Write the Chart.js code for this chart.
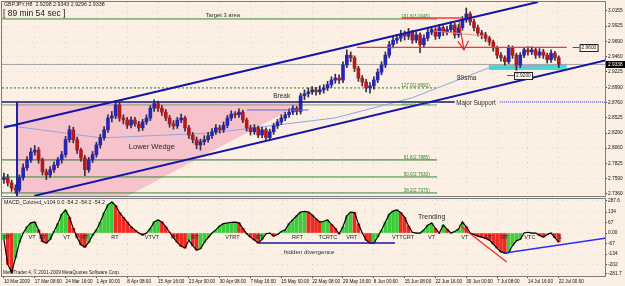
<!DOCTYPE html>
<html>
<head>
<meta charset="utf-8">
<script src="https://cdn.jsdelivr.net/npm/chart.js@4.4.1/dist/chart.umd.min.js"></script>
<style>
    html, body { margin: 0; padding: 0; background: #fcf0e4; }
    #cadre { position: relative; width: 625px; height: 286px; overflow: hidden; }
    canvas { display: block; }
</style>
</head>
<body>
<div id="cadre">
    <canvas id="graphPrix" width="625" height="197"></canvas>
    <canvas id="graphMacd" width="625" height="89"></canvas>
</div>
<script>
// ========================== DONNÉES ==========================

// Étiquettes de l'axe du temps (une toutes les 8 bougies)
const etiquettesTemps = ['10 Mar 2009', '17 Mar 08:00', '24 Mar 16:00', '1 Apr 00:00', '8 Apr 08:00',
    '15 Apr 16:00', '23 Apr 00:00', '30 Apr 08:00', '7 May 16:00', '15 May 00:00', '22 May 08:00',
    '29 May 16:00', '8 Jun 00:00', '15 Jun 08:00', '22 Jun 16:00', '30 Jun 00:00', '7 Jul 08:00',
    '14 Jul 16:00', '22 Jul 00:00'];
const pasEtiquettes = 8;

// Axe des prix
const valeursPrix = [3.0155, 2.9925, 2.9690, 2.9460, 2.9225, 2.8990, 2.8760, 2.8525, 2.8290, 2.8060, 2.7825, 2.7590, 2.7360];
const etiquettesPrix = ['3.0155', '2.9925', '2.9690', '2.9460', '2.9225', '2.8990', '2.8760', '2.8525', '2.8290', '2.8060', '2.7825', '2.7590', '2.7360'];

// Bougies (ouverture, haut, bas, clôture)
const ouvertures = [
    2.758, 2.761, 2.753, 2.745, 2.742, 2.761, 2.776, 2.788, 2.800, 2.803,
    2.788, 2.770, 2.765, 2.773, 2.780, 2.788, 2.796, 2.819, 2.834, 2.819,
    2.803, 2.791, 2.773, 2.788, 2.796, 2.811, 2.822, 2.834, 2.852, 2.855,
    2.872, 2.852, 2.849, 2.841, 2.849, 2.843, 2.837, 2.846, 2.852, 2.867,
    2.874, 2.867, 2.861, 2.852, 2.843, 2.840, 2.849, 2.852, 2.837, 2.826,
    2.819, 2.811, 2.816, 2.819, 2.825, 2.831, 2.837, 2.834, 2.841, 2.852,
    2.858, 2.857, 2.861, 2.849, 2.837, 2.831, 2.837, 2.826, 2.834, 2.822,
    2.831, 2.840, 2.846, 2.852, 2.857, 2.861, 2.867, 2.862, 2.886, 2.889,
    2.892, 2.895, 2.892, 2.895, 2.898, 2.903, 2.910, 2.913, 2.910, 2.933,
    2.948, 2.944, 2.928, 2.913, 2.907, 2.898, 2.901, 2.910, 2.922, 2.933,
    2.948, 2.964, 2.971, 2.974, 2.980, 2.977, 2.983, 2.971, 2.979, 2.964,
    2.974, 2.983, 2.987, 2.977, 2.990, 2.983, 2.987, 2.994, 2.979, 2.990,
    3.002, 3.011, 2.999, 2.990, 2.982, 2.979, 2.974, 2.968, 2.959, 2.948,
    2.944, 2.938, 2.959, 2.948, 2.933, 2.948, 2.956, 2.953, 2.956, 2.948,
    2.953, 2.948, 2.941, 2.951, 2.944
];
const hauts = [
    2.768, 2.766, 2.757, 2.750, 2.765, 2.782, 2.793, 2.806, 2.810, 2.807,
    2.791, 2.774, 2.778, 2.785, 2.792, 2.801, 2.824, 2.840, 2.838, 2.823,
    2.806, 2.795, 2.792, 2.801, 2.815, 2.827, 2.839, 2.857, 2.862, 2.879,
    2.876, 2.857, 2.853, 2.854, 2.853, 2.847, 2.850, 2.857, 2.871, 2.880,
    2.878, 2.871, 2.865, 2.856, 2.848, 2.853, 2.858, 2.855, 2.841, 2.830,
    2.823, 2.820, 2.825, 2.830, 2.836, 2.842, 2.841, 2.846, 2.856, 2.863,
    2.862, 2.866, 2.864, 2.852, 2.841, 2.842, 2.840, 2.838, 2.837, 2.835,
    2.844, 2.850, 2.857, 2.861, 2.866, 2.871, 2.870, 2.890, 2.895, 2.898,
    2.900, 2.899, 2.901, 2.903, 2.908, 2.915, 2.919, 2.918, 2.938, 2.956,
    2.953, 2.947, 2.931, 2.917, 2.911, 2.906, 2.915, 2.927, 2.938, 2.953,
    2.969, 2.977, 2.980, 2.986, 2.985, 2.989, 2.986, 2.984, 2.982, 2.979,
    2.988, 2.992, 2.990, 2.995, 2.993, 2.992, 2.999, 2.997, 2.995, 3.007,
    3.020, 3.014, 3.003, 2.994, 2.986, 2.983, 2.977, 2.971, 2.962, 2.952,
    2.947, 2.963, 2.962, 2.951, 2.952, 2.960, 2.961, 2.961, 2.959, 2.958,
    2.957, 2.951, 2.956, 2.954, 2.947
];
const bas = [
    2.752, 2.748, 2.740, 2.737, 2.739, 2.757, 2.772, 2.784, 2.795, 2.783,
    2.765, 2.758, 2.761, 2.769, 2.776, 2.783, 2.792, 2.815, 2.814, 2.798,
    2.786, 2.764, 2.769, 2.784, 2.792, 2.806, 2.818, 2.830, 2.846, 2.851,
    2.847, 2.843, 2.836, 2.837, 2.839, 2.832, 2.833, 2.842, 2.848, 2.862,
    2.862, 2.856, 2.848, 2.838, 2.835, 2.836, 2.845, 2.832, 2.821, 2.814,
    2.805, 2.803, 2.811, 2.815, 2.821, 2.827, 2.829, 2.830, 2.837, 2.848,
    2.852, 2.853, 2.845, 2.832, 2.826, 2.827, 2.822, 2.822, 2.818, 2.819,
    2.827, 2.836, 2.842, 2.848, 2.853, 2.857, 2.857, 2.858, 2.880, 2.884,
    2.888, 2.887, 2.888, 2.890, 2.894, 2.899, 2.905, 2.905, 2.906, 2.929,
    2.938, 2.923, 2.908, 2.901, 2.892, 2.890, 2.896, 2.906, 2.918, 2.929,
    2.944, 2.959, 2.966, 2.969, 2.971, 2.972, 2.966, 2.967, 2.952, 2.960,
    2.970, 2.979, 2.972, 2.973, 2.978, 2.979, 2.983, 2.974, 2.975, 2.986,
    2.998, 2.994, 2.985, 2.977, 2.973, 2.969, 2.963, 2.954, 2.943, 2.939,
    2.933, 2.935, 2.943, 2.925, 2.929, 2.944, 2.948, 2.949, 2.943, 2.944,
    2.943, 2.936, 2.937, 2.940, 2.929
];
const clotures = [
    2.761, 2.753, 2.745, 2.742, 2.761, 2.776, 2.788, 2.800, 2.803, 2.788,
    2.770, 2.765, 2.773, 2.780, 2.788, 2.796, 2.819, 2.834, 2.819, 2.803,
    2.791, 2.773, 2.788, 2.796, 2.811, 2.822, 2.834, 2.852, 2.855, 2.872,
    2.852, 2.849, 2.841, 2.849, 2.843, 2.837, 2.846, 2.852, 2.867, 2.874,
    2.867, 2.861, 2.852, 2.843, 2.840, 2.849, 2.852, 2.837, 2.826, 2.819,
    2.811, 2.816, 2.819, 2.825, 2.831, 2.837, 2.834, 2.841, 2.852, 2.858,
    2.857, 2.861, 2.849, 2.837, 2.831, 2.837, 2.826, 2.834, 2.822, 2.831,
    2.840, 2.846, 2.852, 2.857, 2.861, 2.867, 2.862, 2.886, 2.889, 2.892,
    2.895, 2.892, 2.895, 2.898, 2.903, 2.910, 2.913, 2.910, 2.933, 2.948,
    2.944, 2.928, 2.913, 2.907, 2.898, 2.901, 2.910, 2.922, 2.933, 2.948,
    2.964, 2.971, 2.974, 2.980, 2.977, 2.983, 2.971, 2.979, 2.964, 2.974,
    2.983, 2.987, 2.977, 2.990, 2.983, 2.987, 2.994, 2.979, 2.990, 3.002,
    3.011, 2.999, 2.990, 2.982, 2.979, 2.974, 2.968, 2.959, 2.948, 2.944,
    2.938, 2.959, 2.948, 2.933, 2.948, 2.956, 2.953, 2.956, 2.948, 2.953,
    2.948, 2.941, 2.951, 2.944, 2.934
];
const prixActuel = 2.9338;

// Moyenne mobile 89
const sma89 = [
    { x: 0, y: 2.8414 }, { x: 25.4, y: 2.8216 }, { x: 54, y: 2.8292 }, { x: 85.9, y: 2.8521 },
    { x: 105.9, y: 2.8827 }, { x: 125.8, y: 2.9285 }, { x: 145.6, y: 2.9331 }
];

// MACD coloré
const valeursMacd = [
    -40, -200, -250, -160, -60, 0, 40, 65, 70, 20,
    -55, -64, -40, 10, 60, 120, 147, 100, 30, -30,
    -75, -90, -60, -15, 20, 70, 130, 180, 198, 175,
    130, 100, 70, 40, 19, 0, -13, 0, 30, 70,
    83, 70, 40, 5, -30, -60, -85, -96, -45, -80,
    -109, -100, -60, -30, 0, 20, 45, 60, 64, 68,
    70, 65, 30, -5, -26, -45, -64, -40, -5, 0,
    -20, -10, 10, 20, 60, 85, 110, 134, 138, 134,
    115, 90, 70, 75, 83, 55, 30, -5, 40, 110,
    134, 130, 60, 0, -45, -64, -64, -25, 19, 70,
    120, 140, 147, 130, 100, 45, 5, 0, 0, 20,
    50, 64, 30, 0, 51, 25, 0, 10, 25, 70,
    40, 0, -10, -20, -26, -35, -45, -70, -96, -120,
    -128, -125, -80, -50, -40, 0, 5, 0, 0, -15,
    -26, -10, 0, -30, -58
];
const valeursEchelleMacd = [206, 134, 67, 0, -67, -134, -202, -257];
const etiquettesMacd = ['287.6', '134', '67', '0.00', '-67', '-134', '-202', '-281.7'];

// Objets tracés (x = n° de bougie, y = prix)
const canalHaut = [{ x: 0, y: 2.8376 }, { x: 138.6, y: 3.0292 }];
const canalBas = [{ x: 7.8, y: 2.7330 }, { x: 156.5, y: 2.9405 }];
const bordRectangle = [{ x: 3.4, y: 2.8765 }, { x: 3.4, y: 2.7329 }];
const triangleRose = [{ x: 3.4, y: 2.643 }, { x: 78.1, y: 2.8765 }];
const supportMajeur = [{ x: -0.5, y: 2.8765 }, { x: 117, y: 2.8765 }];
const supportMajeurSuite = [{ x: 128.7, y: 2.8765 }, { x: 156.5, y: 2.8765 }];
const petiteLigne = [{ x: 63.1, y: 2.8643 }, { x: 79.1, y: 2.8643 }];
const fibo1618 = [{ x: -0.5, y: 3.0033 }, { x: 112.4, y: 3.0033 }];
const fibo1270 = [{ x: -0.5, y: 2.8979 }, { x: 112.4, y: 2.8979 }];
const fibo1000 = [{ x: -0.5, y: 2.8720 }, { x: 112.4, y: 2.8720 }];
const fibo618 = [{ x: -0.5, y: 2.7880 }, { x: 112.4, y: 2.7880 }];
const fibo500 = [{ x: -0.5, y: 2.7620 }, { x: 112.4, y: 2.7620 }];
const fibo382 = [{ x: -0.5, y: 2.7376 }, { x: 112.4, y: 2.7376 }];
const ligneBid = [{ x: -0.5, y: 2.9338 }, { x: 156, y: 2.9338 }];
const resistanceRouge = [{ x: 91.6, y: 2.9600 }, { x: 146.1, y: 2.9600 }];
const sommetRouge = [{ x: 103.3, y: 3.0048 }, { x: 118.8, y: 3.0048 }];
const penteRouge = [{ x: 111.6, y: 2.9850 }, { x: 124.5, y: 2.9773 }];
const flecheRouge = [{ x: 118.1, y: 3.000 }, { x: 119.4, y: 2.956 }];
const pointeFleche = [{ x: 117.8, y: 2.969 }, { x: 119.4, y: 2.956 }, { x: 120.6, y: 2.970 }];
const zoneCyan = [{ x: 125.8, y: 2.9330 }, { x: 146.1, y: 2.9330 }];

const divergenceCachee = [{ x: 66.2, y: -64 }, { x: 101.5, y: -64 }];
const tendanceRougeMacd = [{ x: 118.1, y: 51 }, { x: 130.5, y: -185 }];
const tendanceBleueMacd = [{ x: 130, y: -128 }, { x: 156.5, y: -32 }];

// ========================== STYLE ==========================
const couleurFond = '#fcf0e4';
const couleurGrille = 'rgba(150, 200, 175, 0.4)';
const police = '"Liberation Sans", Arial, sans-serif';
const haussier = '#2626b0';
const baissier = '#b41a1a';
const vertFibo = '#2f8a2f';

Chart.defaults.font.family = police;

function ligne(points, couleur, epaisseur, tirets, ordre) {
    return {
        type: 'line', data: points, borderColor: couleur, borderWidth: epaisseur,
        borderDash: tirets || [], pointRadius: 0, fill: false, tension: 0, order: ordre
    };
}

function couleurBougie(i) {
    return clotures[i] >= ouvertures[i] ? haussier : baissier;
}

function couleurMacd(i) {
    return i > 0 && valeursMacd[i] < valeursMacd[i - 1] ? '#ee2a22' : '#3ccc3c';
}

// Fond, textes et cadre
function pluginDecor(textes, dessinExtra) {
    return {
        id: 'decor',
        beforeDraw(chart) {
            const ctx = chart.ctx;
            ctx.save();
            ctx.fillStyle = couleurFond;
            ctx.fillRect(0, 0, chart.width, chart.height);
            ctx.restore();
        },
        afterDatasetsDraw(chart) {
            const ctx = chart.ctx;
            const sx = chart.scales.x;
            const sy = chart.scales.y;
            textes.forEach(t => {
                ctx.save();
                ctx.font = t.taille + 'px ' + police;
                ctx.fillStyle = t.couleur || '#2a2a2a';
                ctx.textAlign = t.align || 'center';
                ctx.textBaseline = 'middle';
                ctx.fillText(t.texte, sx.getPixelForValue(t.x), sy.getPixelForValue(t.y));
                ctx.restore();
            });
        },
        afterDraw(chart) {
            const ctx = chart.ctx;
            const a = chart.chartArea;
            ctx.save();
            ctx.strokeStyle = '#7d7d7d';
            ctx.lineWidth = 1;
            ctx.strokeRect(a.left - 0.5, a.top - 0.5, a.right - a.left + 1, a.bottom - a.top + 1);
            ctx.restore();
            if (dessinExtra) dessinExtra(chart);
        }
    };
}

// ========================== GRAPHIQUE DES PRIX ==========================
const textesPrix = [
    { texte: 'Target 3 area', x: 56.8, y: 3.0094, taille: 5.8 },
    { texte: '161.8(3.0045)', x: 110.5, y: 3.0062, taille: 4.6, couleur: vertFibo, align: 'right' },
    { texte: '127.0(2.8990)', x: 110.5, y: 2.9008, taille: 4.6, couleur: vertFibo, align: 'right' },
    { texte: '100.0(2.8710)', x: 110.5, y: 2.8745, taille: 4.6, couleur: vertFibo, align: 'right' },
    { texte: '61.8(2.7885)', x: 110.5, y: 2.7908, taille: 4.6, couleur: vertFibo, align: 'right' },
    { texte: '50.0(2.7630)', x: 110.5, y: 2.7648, taille: 4.6, couleur: vertFibo, align: 'right' },
    { texte: '38.2(2.7375)', x: 110.5, y: 2.7404, taille: 4.6, couleur: vertFibo, align: 'right' },
    { texte: 'Break', x: 72.1, y: 2.8857, taille: 6.5 },
    { texte: 'Lower Wedge', x: 38.4, y: 2.8078, taille: 7.5 },
    { texte: '89sma', x: 120.1, y: 2.9132, taille: 6.5 },
    { texte: 'Major Support', x: 122.5, y: 2.8752, taille: 6.3 }
];

const boitesPrix = [
    { texte: '2.9600', x: 149.4, y: 2.9600 },
    { texte: '2.9200', x: 132.4, y: 2.9180 }
];

function extraPrix(chart) {
    const ctx = chart.ctx;
    const a = chart.chartArea;
    const sx = chart.scales.x;
    const sy = chart.scales.y;
    ctx.save();
    ctx.textBaseline = 'middle';
    ctx.textAlign = 'left';
    ctx.fillStyle = '#1a1a1a';
    ctx.font = '5.3px ' + police;
    ctx.fillText('GBPJPY,H8  2.9298 2.9343 2.9296 2.9338', a.left + 2, a.top + 3);
    ctx.font = '8.5px ' + police;
    ctx.fillText('[ 89 min 54 sec ]', a.left + 1, a.top + 12);
    // étiquettes des lignes horizontales
    ctx.font = '4.8px ' + police;
    boitesPrix.forEach(b => {
        const px = sx.getPixelForValue(b.x);
        const py = Math.round(sy.getPixelForValue(b.y));
        const w = Math.round(ctx.measureText(b.texte).width + 3);
        ctx.strokeStyle = '#555';
        ctx.beginPath();
        ctx.moveTo(px - 7, py + 0.5);
        ctx.lineTo(px, py + 0.5);
        ctx.stroke();
        ctx.fillStyle = '#fffaf2';
        ctx.fillRect(px, py - 3, w, 7);
        ctx.strokeStyle = '#222';
        ctx.strokeRect(px + 0.5, py - 2.5, w, 7);
        ctx.fillStyle = '#111';
        ctx.fillText(b.texte, px + 2, py + 1);
    });
    // prix courant
    const yb = Math.round(sy.getPixelForValue(prixActuel));
    ctx.fillStyle = '#000';
    ctx.fillRect(a.right + 1, yb - 3, chart.width - a.right - 1, 7);
    ctx.fillStyle = '#fff';
    ctx.fillText(prixActuel.toFixed(4), a.right + 3, yb + 0.5);
    ctx.restore();
}

const corps = clotures.map((c, i) => ({ x: i, y: [ouvertures[i], c] }));
const meches = clotures.map((c, i) => ({ x: i, y: [bas[i], hauts[i]] }));

const datasetsPrix = [
    { type: 'line', data: triangleRose, borderWidth: 0, pointRadius: 0, fill: { value: 2.8765 },
      backgroundColor: '#f6c3cd', borderColor: 'rgba(0,0,0,0)', order: 40 },
    { type: 'line', data: zoneCyan, borderWidth: 0, pointRadius: 0, fill: { value: 2.9254 },
      backgroundColor: '#44dcd4', borderColor: 'rgba(0,0,0,0)', order: 39 },
    ligne(fibo1618, vertFibo, 1, [], 30),
    ligne(fibo1270, '#2a7a2a', 1, [2, 2], 30),
    ligne(fibo1000, '#7f9a7f', 1, [], 30),
    ligne(fibo618, '#2a6e2a', 1, [], 30),
    ligne(fibo500, '#3a8a3a', 1, [], 30),
    ligne(fibo382, '#3a8a3a', 1, [], 30),
    ligne(ligneBid, '#a3a3a3', 1, [], 31),
    ligne(sma89, '#8fa4e4', 1, [], 25),
    { type: 'bar', data: meches, backgroundColor: '#303040', barThickness: 1,
      grouped: false, order: 11 },
    { type: 'bar', data: corps, backgroundColor: c => couleurBougie(c.dataIndex), barThickness: 3,
      grouped: false, minBarLength: 1, order: 10 },
    ligne(supportMajeur, '#1a1a70', 1.3, [], 5),
    ligne(supportMajeurSuite, '#2a2aee', 1, [1, 1], 5),
    ligne(petiteLigne, '#5a6ad0', 1, [], 5),
    ligne(bordRectangle, '#2020a0', 2, [], 5),
    ligne(resistanceRouge, '#f03a3a', 1.3, [], 4),
    ligne(sommetRouge, '#f03a3a', 1.3, [], 4),
    ligne(penteRouge, '#f08a8a', 1, [], 4),
    ligne(flecheRouge, '#f02020', 1.2, [], 3),
    ligne(pointeFleche, '#f02020', 1.2, [], 3),
    ligne(canalHaut, '#1414a8', 2, [], 2),
    ligne(canalBas, '#1414a8', 2, [], 2)
];

new Chart(document.getElementById('graphPrix'), {
    type: 'bar',
    data: { datasets: datasetsPrix },
    options: {
        responsive: false,
        animation: false,
        devicePixelRatio: 1,
        events: [],
        layout: { padding: { top: 2, left: 2, right: 0, bottom: 1 } },
        plugins: { legend: { display: false }, tooltip: { enabled: false } },
        scales: {
            x: {
                type: 'linear', min: -0.5, max: 156, offset: false,
                afterBuildTicks: s => { s.ticks = etiquettesTemps.map((t, k) => ({ value: k * pasEtiquettes })); },
                afterFit: s => { s.height = 0; s.paddingLeft = 0; s.paddingRight = 0; },
                ticks: { display: false },
                grid: { color: couleurGrille, drawTicks: false, offset: false },
                border: { display: false, dash: [1, 4] }
            },
            y: {
                position: 'right', min: 2.7329, max: 3.0292,
                afterBuildTicks: s => { s.ticks = valeursPrix.map(v => ({ value: v })); },
                afterFit: s => { s.width = 20; s.paddingTop = 0; s.paddingBottom = 0; },
                ticks: {
                    callback: v => etiquettesPrix[valeursPrix.indexOf(v)],
                    font: { size: 4.8 }, color: '#111', padding: 1, autoSkip: false
                },
                grid: { color: couleurGrille, tickLength: 2, tickColor: '#444' },
                border: { display: false, dash: [1, 4] }
            }
        }
    },
    plugins: [pluginDecor(textesPrix, extraPrix)]
});

// ========================== GRAPHIQUE MACD ==========================
const textesMacd = [
    { texte: 'hidden divergence', x: 79.2, y: -125, taille: 6.2 },
    { texte: 'Trending', x: 111, y: 100, taille: 7 }
];
// repères VT / RT le long de la ligne zéro
[['RT', 0.8], ['VT', 7.3], ['RT', 10.1], ['VT', 16.3], ['RT', 21], ['RT', 28.8], ['VTVT', 38.4],
 ['RT', 44.4], ['RT', 49.6], ['VTRT', 59.3], ['RT', 66.4], ['RFT', 76.2], ['TCRTC', 84.1],
 ['VRT', 90.3], ['VTTCRT', 103.6], ['VT', 111], ['VT', 119.6], ['RT', 125.8], ['RT', 130],
 ['VTC', 136.5], ['S', 144.3]].forEach(r => {
    textesMacd.push({ texte: r[0], x: r[1], y: -28, taille: 5.6, couleur: '#1e1e1e' });
});

function extraMacd(chart) {
    const ctx = chart.ctx;
    const a = chart.chartArea;
    ctx.save();
    ctx.textBaseline = 'middle';
    ctx.textAlign = 'left';
    ctx.fillStyle = '#1a1a1a';
    ctx.font = '5.3px ' + police;
    ctx.fillText('MACD_Colored_v104 0.0 -54.2 -54.2 -54.2', a.left + 2, a.top + 4);
    ctx.font = '4.7px ' + police;
    ctx.fillText('MetaTrader 4, \u00a9 2001-2009 MetaQuotes Software Corp.', a.left + 1, a.bottom - 3);
    ctx.restore();
}

const histo = valeursMacd.map((v, i) => ({ x: i, y: v }));

new Chart(document.getElementById('graphMacd'), {
    type: 'bar',
    data: {
        datasets: [
            ligne(divergenceCachee, '#1a1aa0', 1.4, [], 0),
            ligne(tendanceRougeMacd, '#ff2020', 1.2, [], 0),
            ligne(tendanceBleueMacd, '#2a2aff', 1.5, [], 0),
            ligne(histo, '#000', 1.2, [], 1),
            { type: 'bar', data: histo, backgroundColor: c => couleurMacd(c.dataIndex), barThickness: 3,
              grouped: false, order: 5 }
        ]
    },
    options: {
        responsive: false,
        animation: false,
        devicePixelRatio: 1,
        events: [],
        layout: { padding: { top: 2, left: 2, right: 0, bottom: 0 } },
        plugins: { legend: { display: false }, tooltip: { enabled: false } },
        scales: {
            x: {
                type: 'linear', min: -0.5, max: 156, offset: false,
                afterBuildTicks: s => { s.ticks = etiquettesTemps.map((t, k) => ({ value: k * pasEtiquettes })); },
                afterFit: s => { s.height = 10; s.paddingLeft = 0; s.paddingRight = 0; },
                ticks: {
                    callback: v => etiquettesTemps[Math.round(v / pasEtiquettes)],
                    font: { size: 4.6 }, color: '#111', align: 'start', maxRotation: 0, autoSkip: false, padding: 1
                },
                grid: { color: couleurGrille, tickLength: 2, tickColor: '#444', offset: false },
                border: { display: false, dash: [1, 4] }
            },
            y: {
                position: 'right', min: -274, max: 217,
                afterBuildTicks: s => { s.ticks = valeursEchelleMacd.map(v => ({ value: v })); },
                afterFit: s => { s.width = 20; s.paddingTop = 0; s.paddingBottom = 0; },
                ticks: {
                    callback: v => etiquettesMacd[valeursEchelleMacd.indexOf(v)],
                    font: { size: 4.8 }, color: '#111', padding: 1, autoSkip: false
                },
                grid: { color: couleurGrille, tickLength: 2, tickColor: '#444' },
                border: { display: false, dash: [1, 4] }
            }
        }
    },
    plugins: [pluginDecor(textesMacd, extraMacd)]
});
</script>
</body>
</html>
